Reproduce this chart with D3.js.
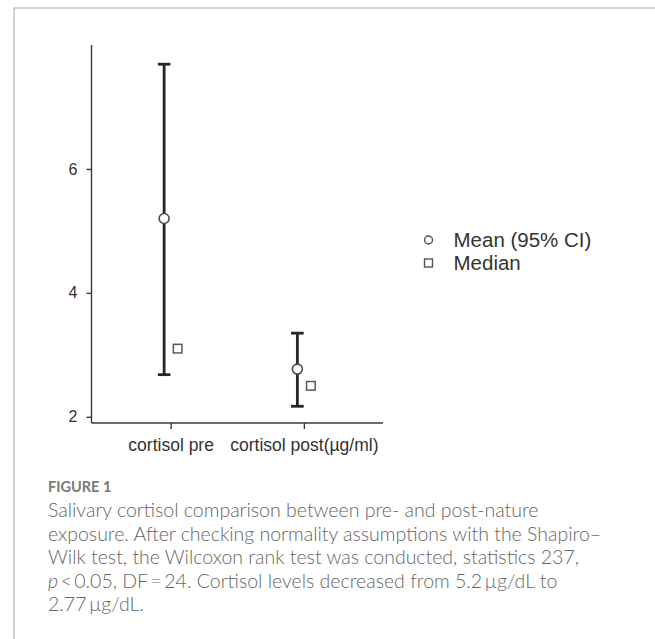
<!DOCTYPE html>
<html>
<head>
<meta charset="utf-8">
<script src="https://cdn.jsdelivr.net/npm/d3@7"></script>
<style>
  html, body { margin: 0; padding: 0; background: #fff; }
  svg { display: block; }
</style>
</head>
<body>
<svg id="chart" width="655" height="639"></svg>
<script>
// Salivary cortisol (µg/ml): mean with 95% CI, plus median
const categories = ["cortisol pre", "cortisol post(µg/ml)"];
const means   = [5.2, 2.77];
const ciLow   = [2.68, 2.17];
const ciHigh  = [7.69, 3.35];
const medians = [3.1, 2.5];
const yTicks  = [2, 4, 6];
const legendLabels = ["Mean (95% CI)", "Median"];
const figureLabel = "FIGURE 1";
const captionLines = [
  "Salivary cortisol comparison between pre- and post-nature",
  "exposure. After checking normality assumptions with the Shapiro–",
  "Wilk test, the Wilcoxon rank test was conducted, statistics 237,",
  "p\u2009<\u20090.05, DF\u2009=\u200924. Cortisol levels decreased from 5.2\u2009µg/dL to",
  "2.77\u2009µg/dL."
];

const svg = d3.select("#chart");
const chartFont = "'Liberation Sans', Arial, sans-serif";
const capFont = "Lato, 'Open Sans', sans-serif";

// panel frame (top and left rules)
svg.append("path")
  .attr("d", "M14,639 V8 H655")
  .attr("fill", "none")
  .attr("stroke", "#c4c4c4")
  .attr("stroke-width", 1.5);

const plot = { left: 91.5, right: 383, top: 45, bottom: 423 };

const x = d3.scalePoint()
  .domain(categories)
  .range([plot.left, plot.right])
  .padding(0.594);

const y = d3.scaleLinear()
  .domain([1.9, 8.0])
  .range([plot.bottom, plot.top]);

// axes
const yAxis = d3.axisLeft(y).tickValues(yTicks).tickSize(5).tickPadding(9).tickFormat(d3.format("d"));
const gy = svg.append("g").attr("transform", `translate(${plot.left},0)`).call(yAxis);
gy.select(".domain").attr("d", `M0,${plot.top}V${plot.bottom}`);

const xAxis = d3.axisBottom(x).tickSize(6).tickPadding(10);
const gx = svg.append("g").attr("transform", `translate(0,${plot.bottom})`).call(xAxis);
gx.select(".domain").attr("d", `M${plot.left},0H${plot.right}`);

[gy, gx].forEach(g => {
  g.attr("font-family", null).attr("font-size", null);
  g.select(".domain").attr("stroke", "#3a3a3a").attr("stroke-width", 1.4);
  g.selectAll(".tick line").attr("stroke", "#3a3a3a").attr("stroke-width", 1.4);
  g.selectAll(".tick text").attr("fill", "#333").style("font-family", chartFont);
});
gy.selectAll(".tick text").style("font-size", "16px");
gx.selectAll(".tick text").style("font-size", "17.5px").attr("dy", "0.71em");

// series offsets around each category
const meanShift = -6.5, medShift = 7;
const capHalf = 6.3;

const bars = svg.append("g").selectAll("g")
  .data(categories.map((c, i) => ({ c, mean: means[i], lo: ciLow[i], hi: ciHigh[i], med: medians[i] })))
  .join("g");

bars.append("line")
  .attr("x1", d => x(d.c) + meanShift).attr("x2", d => x(d.c) + meanShift)
  .attr("y1", d => y(d.lo)).attr("y2", d => y(d.hi))
  .attr("stroke", "#262626").attr("stroke-width", 2.8);

["lo", "hi"].forEach(k => {
  bars.append("line")
    .attr("x1", d => x(d.c) + meanShift - capHalf).attr("x2", d => x(d.c) + meanShift + capHalf)
    .attr("y1", d => y(d[k])).attr("y2", d => y(d[k]))
    .attr("stroke", "#262626").attr("stroke-width", 2.8);
});

bars.append("circle")
  .attr("cx", d => x(d.c) + meanShift).attr("cy", d => y(d.mean))
  .attr("r", 5)
  .attr("fill", "#fff").attr("stroke", "#4a4a4a").attr("stroke-width", 1.6);

bars.append("rect")
  .attr("x", d => x(d.c) + medShift - 4.3).attr("y", d => y(d.med) - 4.3)
  .attr("width", 8.6).attr("height", 8.6)
  .attr("fill", "#fff").attr("stroke", "#5a5a5a").attr("stroke-width", 1.5);

// legend
const legend = svg.append("g").attr("transform", "translate(428.5,240)");
const rows = legend.selectAll("g").data(legendLabels).join("g")
  .attr("transform", (d, i) => `translate(0,${i * 23})`);
rows.filter((d, i) => i === 0).append("circle")
  .attr("r", 4).attr("fill", "#fff").attr("stroke", "#555").attr("stroke-width", 1.5);
rows.filter((d, i) => i === 1).append("rect")
  .attr("x", -4).attr("y", -4).attr("width", 8).attr("height", 8)
  .attr("fill", "#fff").attr("stroke", "#555").attr("stroke-width", 1.4);
rows.append("text")
  .attr("x", 25).attr("y", 7.3)
  .attr("font-family", chartFont).attr("font-size", 20.5)
  .attr("fill", "#333")
  .text(d => d);

// caption
svg.append("text")
  .attr("x", 48).attr("y", 492.3)
  .attr("font-family", capFont).attr("font-size", 14.5).attr("font-weight", 700)
  .attr("fill", "#7a7a7a")
  .text(figureLabel);

const cap = svg.append("g")
  .attr("font-family", capFont).attr("font-size", 19.5).attr("font-weight", 300)
  .attr("fill", "#666");
captionLines.forEach((line, i) => {
  const t = cap.append("text").attr("x", 48).attr("y", 517 + i * 23.5);
  if (line.startsWith("p\u2009")) {
    t.append("tspan").attr("font-style", "italic").text("p");
    t.append("tspan").text(line.slice(1));
  } else {
    t.text(line);
  }
});
</script>
</body>
</html>
